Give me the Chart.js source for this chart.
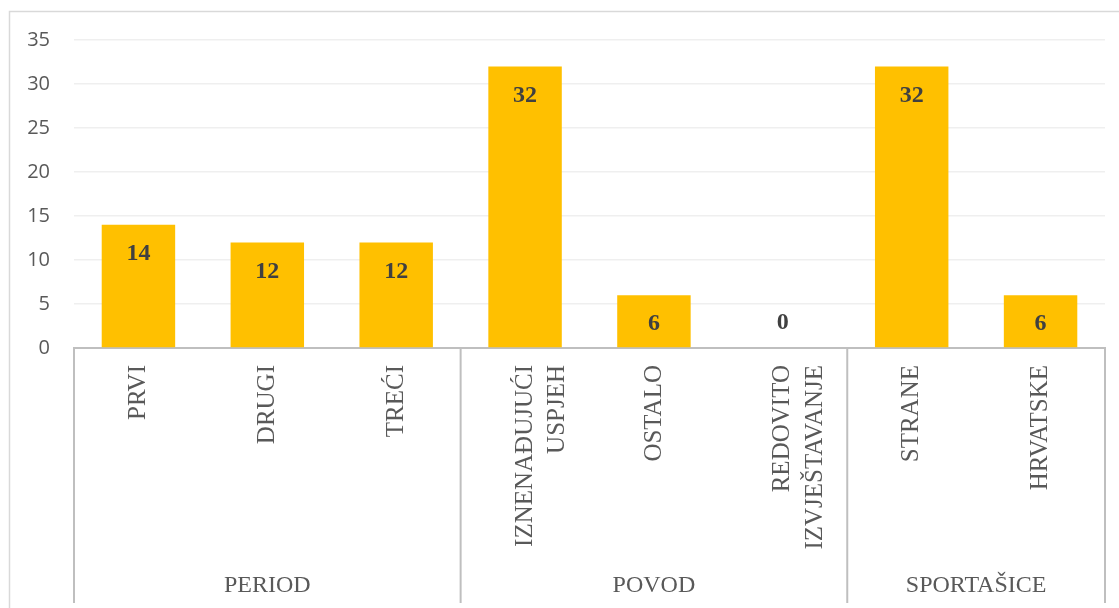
<!DOCTYPE html>
<html>
<head>
<meta charset="utf-8">
<script src="https://cdn.jsdelivr.net/npm/chart.js@4"></script>
<style>
  html, body { margin: 0; padding: 0; background: #fff; }
  #wrap { position: relative; width: 1119px; height: 608px; }
</style>
</head>
<body>
<div id="wrap"><canvas id="c"></canvas></div>
<script>
// ---- data ----
const categories = [
  ['PRVI'], ['DRUGI'], ['TREĆI'],
  ['IZNENAĐUJUĆI', 'USPJEH'], ['OSTALO'], ['REDOVITO', 'IZVJEŠTAVANJE'],
  ['STRANE'], ['HRVATSKE']
];
const values = [14, 12, 12, 32, 6, 0, 32, 6];
const groups = ['PERIOD', 'POVOD', 'SPORTAŠICE'];
const groupSizes = [3, 3, 2];
const yTicks = [0, 5, 10, 15, 20, 25, 30, 35];

const AXIS_GREY = '#bfbfbf';
const TEXT_GREY = '#595959';

const framePlugin = {
  id: 'frame',
  beforeDraw(chart) {
    const ctx = chart.ctx;
    ctx.save();
    ctx.strokeStyle = '#d9d9d9';
    ctx.lineWidth = 1.5;
    ctx.beginPath();
    ctx.moveTo(9.5, 620);
    ctx.lineTo(9.5, 11.5);
    ctx.lineTo(1130, 11.5);
    ctx.stroke();
    ctx.restore();
  }
};

const groupPlugin = {
  id: 'groups',
  afterDraw(chart) {
    const ctx = chart.ctx;
    const xs = chart.scales.x;
    const area = chart.chartArea;
    const half = (xs.getPixelForValue(1) - xs.getPixelForValue(0)) / 2;
    ctx.save();
    ctx.strokeStyle = AXIS_GREY;
    ctx.lineWidth = 2;
    let idx = 0;
    const bounds = [xs.getPixelForValue(0) - half];
    groupSizes.forEach(n => { idx += n; bounds.push(xs.getPixelForValue(idx - 1) + half); });
    bounds.forEach(b => {
      ctx.beginPath();
      ctx.moveTo(b, area.bottom);
      ctx.lineTo(b, 603);
      ctx.stroke();
    });
    ctx.fillStyle = TEXT_GREY;
    ctx.font = '24px "Liberation Serif", "Times New Roman", serif';
    ctx.textAlign = 'center';
    ctx.textBaseline = 'middle';
    groups.forEach((g, i) => {
      ctx.fillText(g, (bounds[i] + bounds[i + 1]) / 2, 586);
    });
    ctx.restore();
  }
};

const labelPlugin = {
  id: 'barLabels',
  afterDatasetsDraw(chart) {
    const ctx = chart.ctx;
    const meta = chart.getDatasetMeta(0);
    ctx.save();
    ctx.fillStyle = '#404040';
    ctx.font = 'bold 24px "Liberation Serif", "Times New Roman", serif';
    ctx.textAlign = 'center';
    ctx.textBaseline = 'middle';
    meta.data.forEach((el, i) => {
      const v = values[i];
      const y = v > 0 ? el.y + 29 : el.base - 25;
      ctx.fillText(String(v), el.x, y);
    });
    ctx.restore();
  }
};

new Chart(document.getElementById('c'), {
  type: 'bar',
  data: {
    labels: categories,
    datasets: [{
      data: values,
      backgroundColor: '#FFC000',
      borderWidth: 0,
      barPercentage: 0.57,
      categoryPercentage: 1.0
    }]
  },
  options: {
    responsive: true,
    maintainAspectRatio: false,
    animation: false,
    layout: { padding: { left: 0, right: 14, top: 40, bottom: 0 } },
    plugins: { legend: { display: false }, tooltip: { enabled: false } },
    scales: {
      x: {
        grid: { display: false, drawTicks: false },
        border: { display: true, color: AXIS_GREY, width: 2 },
        ticks: {
          autoSkip: false,
          minRotation: 90,
          maxRotation: 90,
          padding: 17,
          color: TEXT_GREY,
          font: { family: '"Liberation Serif", "Times New Roman", serif', size: 25, lineHeight: 1.3 }
        },
        afterFit(scale) { scale.height = 260; }
      },
      y: {
        min: 0,
        max: 35,
        afterBuildTicks(scale) { scale.ticks = yTicks.map(v => ({ value: v })); },
        grid: { color: '#efefef', lineWidth: 1.5, drawTicks: false },
        border: { display: false },
        ticks: {
          padding: 24,
          color: TEXT_GREY,
          font: { family: '"Open Sans", sans-serif', size: 20 }
        },
        afterFit(scale) { scale.width = 74; }
      }
    }
  },
  plugins: [framePlugin, groupPlugin, labelPlugin]
});
</script>
</body>
</html>
